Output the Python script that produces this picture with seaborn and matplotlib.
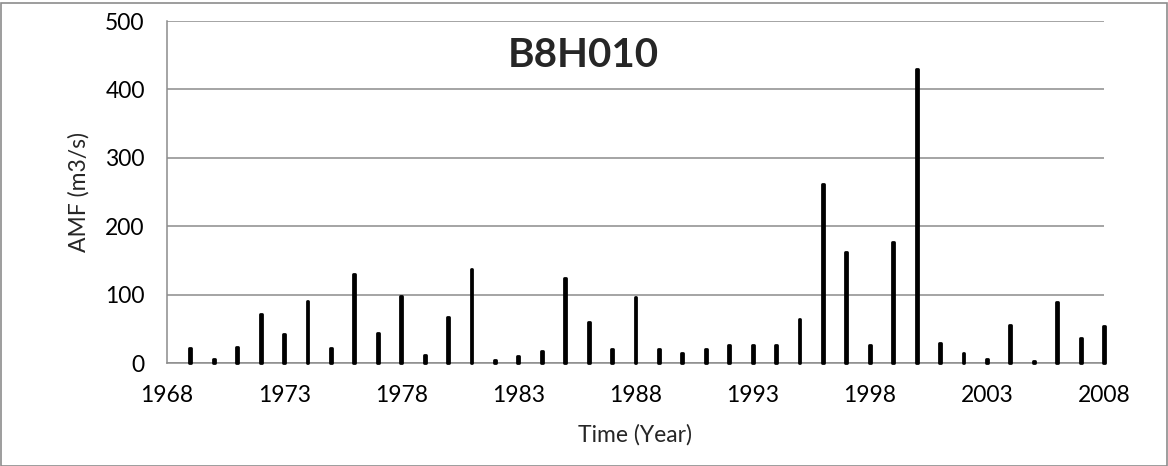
import matplotlib
matplotlib.use("Agg")
import matplotlib.pyplot as plt
import seaborn as sns
import pandas as pd
from matplotlib.patches import Rectangle

years = list(range(1969, 2009))
amf = [22, 6, 24, 71, 43, 91, 22, 130, 44, 98,
       12, 67, 138, 4, 10, 18, 124, 60, 20, 97,
       20, 14, 20, 26, 26, 26, 65, 262, 163, 27,
       177, 430, 29, 15, 6, 55, 3, 89, 37, 54]
x_ticks = list(range(1968, 2009, 5))
y_ticks = [0, 100, 200, 300, 400, 500]
title = "B8H010"
x_label = "Time (Year)"
y_label = "AMF (m3/s)"

df = pd.DataFrame({"Year": years, "AMF": amf})

sns.set_style("white")
plt.rcParams["font.family"] = ["Lato", "DejaVu Sans"]

fig = plt.figure(figsize=(11.68, 4.66), dpi=100)
ax = fig.add_axes([167 / 1168, 1 - 363 / 466, (1104 - 167) / 1168, (363 - 21) / 466])

sns.barplot(data=df, x="Year", y="AMF", native_scale=True, width=0.08,
            color="black", edgecolor="black", linewidth=2.0, ax=ax, zorder=3)
for p in ax.patches:
    p.set_joinstyle("round")
    p.set_clip_on(False)

ax.set_xlim(1968, 2008)
ax.set_ylim(0, 500)
ax.set_xticks(x_ticks)
ax.set_xticklabels([str(t) for t in x_ticks])
ax.set_yticks(y_ticks)
ax.tick_params(axis="both", length=0, labelsize=16.5, colors="black")
ax.tick_params(axis="y", pad=16)
ax.tick_params(axis="x", pad=16)
ax.yaxis.grid(True, color="#8c8c8c", linewidth=1.1, zorder=0)
ax.xaxis.grid(False)
for s in ["top", "right"]:
    ax.spines[s].set_visible(False)
for s in ["left", "bottom"]:
    ax.spines[s].set_color("#8c8c8c")
    ax.spines[s].set_linewidth(1.1)
ax.set_axisbelow(True)

ax.set_xlabel(x_label, fontsize=16.5, labelpad=13)
ax.set_ylabel(y_label, fontsize=16.5, labelpad=11)
ax.text(0.444, 0.865, title, transform=ax.transAxes, ha="center", va="baseline",
        fontsize=29, fontweight="bold")

fig.patches.append(Rectangle((0.5 / 1168, 0.5 / 466), 1 - 2 / 1168, 1 - 3 / 466,
                             transform=fig.transFigure, fill=False,
                             edgecolor="#8c8c8c", linewidth=1.2))

fig.savefig("out.png", dpi=100)
